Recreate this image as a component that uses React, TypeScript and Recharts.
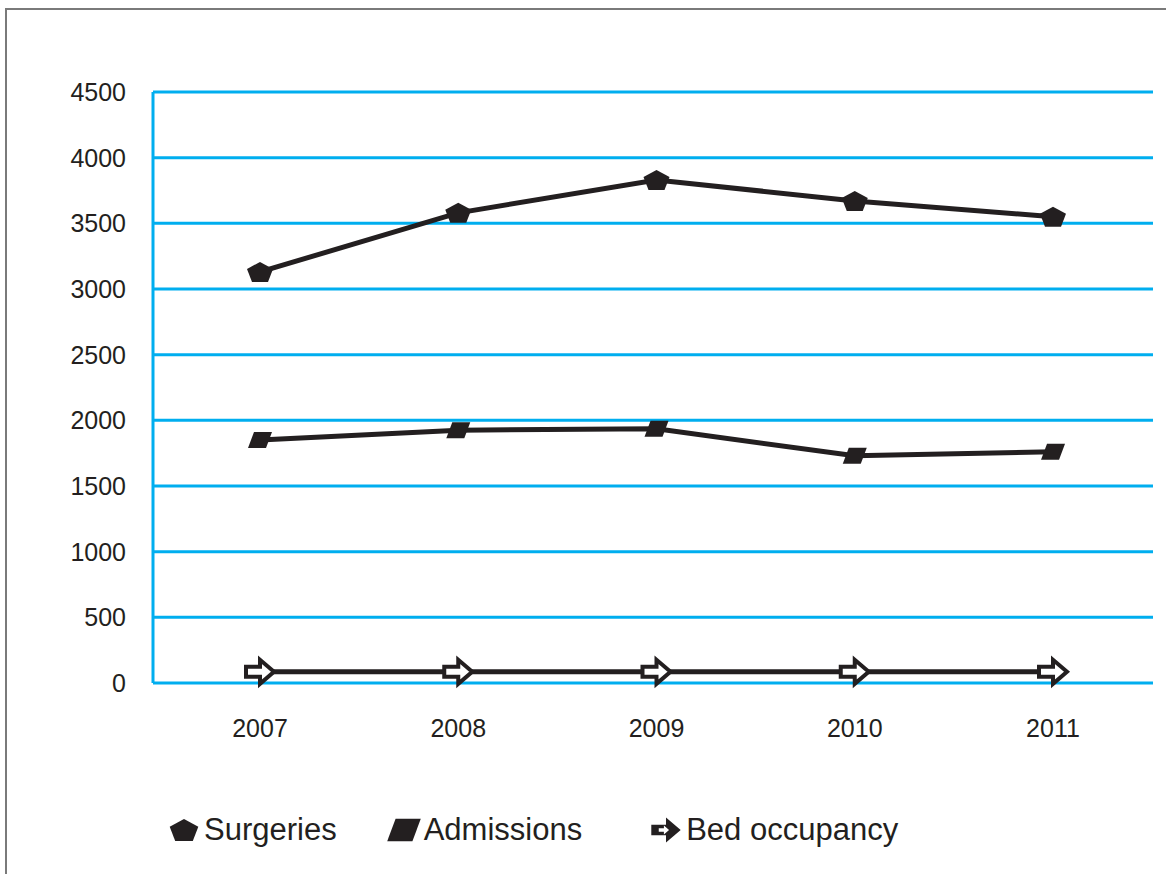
import { LineChart, Line, XAxis, YAxis, CartesianGrid } from "recharts";

const years = ["2007", "2008", "2009", "2010", "2011"];
const surgeries = [3130, 3580, 3830, 3670, 3550];
const admissions = [1850, 1925, 1935, 1730, 1760];
const bedOccupancy = [85, 85, 85, 85, 85];
const yTicks = [0, 500, 1000, 1500, 2000, 2500, 3000, 3500, 4000, 4500];

const data = years.map((year, i) => ({
  year,
  surgeries: surgeries[i],
  admissions: admissions[i],
  bedOccupancy: bedOccupancy[i],
}));

const INK = "#231f20";
const CYAN = "#00aeef";
const FONT = "'Liberation Sans', Arial, sans-serif";

const toPoints = (pts: number[][], cx: number, cy: number, s: number) =>
  pts.map(([x, y]) => `${cx + x * s},${cy + y * s}`).join(" ");

const ARROW = [
  [-14, -5],
  [0, -5],
  [0, -12],
  [14, 0],
  [0, 12],
  [0, 5],
  [-14, 5],
];

// marker shapes, drawn around (cx, cy); s scales them for the legend
function Pentagon({ cx, cy, s = 1 }: { cx: number; cy: number; s?: number }) {
  const pts = [
    [0, -10],
    [13, -3],
    [8, 10],
    [-8, 10],
    [-13, -3],
  ];
  return <polygon points={toPoints(pts, cx, cy, s)} fill={INK} />;
}

function Parallelogram({ cx, cy, s = 1 }: { cx: number; cy: number; s?: number }) {
  const pts = [
    [-12, 8],
    [-6, -8],
    [12, -8],
    [6, 8],
  ];
  return <polygon points={toPoints(pts, cx, cy, s)} fill={INK} />;
}

function Arrow({ cx, cy, s = 1 }: { cx: number; cy: number; s?: number }) {
  return (
    <polygon
      points={toPoints(ARROW, cx, cy, s)}
      fill="#fff"
      stroke={INK}
      strokeWidth={4 * s}
      strokeLinejoin="miter"
    />
  );
}

// legend version: solid arrow with a small white arrow inside
function SolidArrow({ cx, cy, s = 1 }: { cx: number; cy: number; s?: number }) {
  return (
    <g>
      <polygon points={toPoints(ARROW, cx, cy, s)} fill={INK} />
      <polygon points={toPoints(ARROW, cx - 2 * s, cy, s * 0.35)} fill="#fff" />
    </g>
  );
}

const legendItems = [
  { name: "Surgeries", Icon: Pentagon, scale: 1.1, gap: 0 },
  { name: "Admissions", Icon: Parallelogram, scale: 1.4, gap: 49 },
  { name: "Bed occupancy", Icon: SolidArrow, scale: 1.05, gap: 66 },
];

function ChartLegend() {
  return (
    <div
      style={{
        position: "absolute",
        top: 812,
        left: 166,
        display: "flex",
        alignItems: "center",
        fontFamily: FONT,
        fontSize: 31,
        color: INK,
      }}
    >
      {legendItems.map(({ name, Icon, scale, gap }) => (
        <div key={name} style={{ display: "flex", alignItems: "center", marginLeft: gap }}>
          <svg width={36} height={36} style={{ marginRight: 2 }}>
            <Icon cx={18} cy={18} s={scale} />
          </svg>
          <span>{name}</span>
        </div>
      ))}
    </div>
  );
}

export default function App() {
  return (
    <div style={{ position: "absolute", top: 0, left: 0, width: 1166, height: 874, background: "#fff" }}>
      <div
        style={{
          position: "absolute",
          left: 5,
          top: 8,
          width: 1170,
          height: 880,
          borderLeft: "2px solid #7a7a7a",
          borderTop: "2px solid #7a7a7a",
        }}
      />
      <LineChart
        width={1166}
        height={874}
        data={data}
        margin={{ top: 92, right: 13, bottom: 131, left: 93 }}
        style={{ position: "absolute", top: 0, left: 0 }}
      >
        <CartesianGrid vertical={false} stroke={CYAN} strokeWidth={3} />
        <XAxis
          dataKey="year"
          height={60}
          padding={{ left: 107, right: 100 }}
          axisLine={false}
          tickLine={false}
          tickMargin={30}
          tick={{ fill: INK, fontSize: 25, fontFamily: FONT }}
        />
        <YAxis
          width={60}
          domain={[0, 4500]}
          ticks={yTicks}
          interval={0}
          axisLine={{ stroke: CYAN, strokeWidth: 3 }}
          tickLine={false}
          tickMargin={21}
          tick={{ fill: INK, fontSize: 25, fontFamily: FONT }}
        />
        <YAxis
          yAxisId="frame"
          orientation="right"
          width={0}
          domain={[0, 4500]}
          tick={false}
          tickLine={false}
          axisLine={{ stroke: CYAN, strokeWidth: 3 }}
        />
        <Line
          dataKey="surgeries"
          stroke={INK}
          strokeWidth={5}
          isAnimationActive={false}
          activeDot={false}
          dot={(p: any) => <Pentagon key={`s${p.index}`} cx={p.cx} cy={p.cy} />}
        />
        <Line
          dataKey="admissions"
          stroke={INK}
          strokeWidth={5}
          isAnimationActive={false}
          activeDot={false}
          dot={(p: any) => <Parallelogram key={`a${p.index}`} cx={p.cx} cy={p.cy} />}
        />
        <Line
          dataKey="bedOccupancy"
          stroke={INK}
          strokeWidth={5}
          isAnimationActive={false}
          activeDot={false}
          dot={(p: any) => <Arrow key={`b${p.index}`} cx={p.cx} cy={p.cy} />}
        />
      </LineChart>
      <ChartLegend />
    </div>
  );
}
